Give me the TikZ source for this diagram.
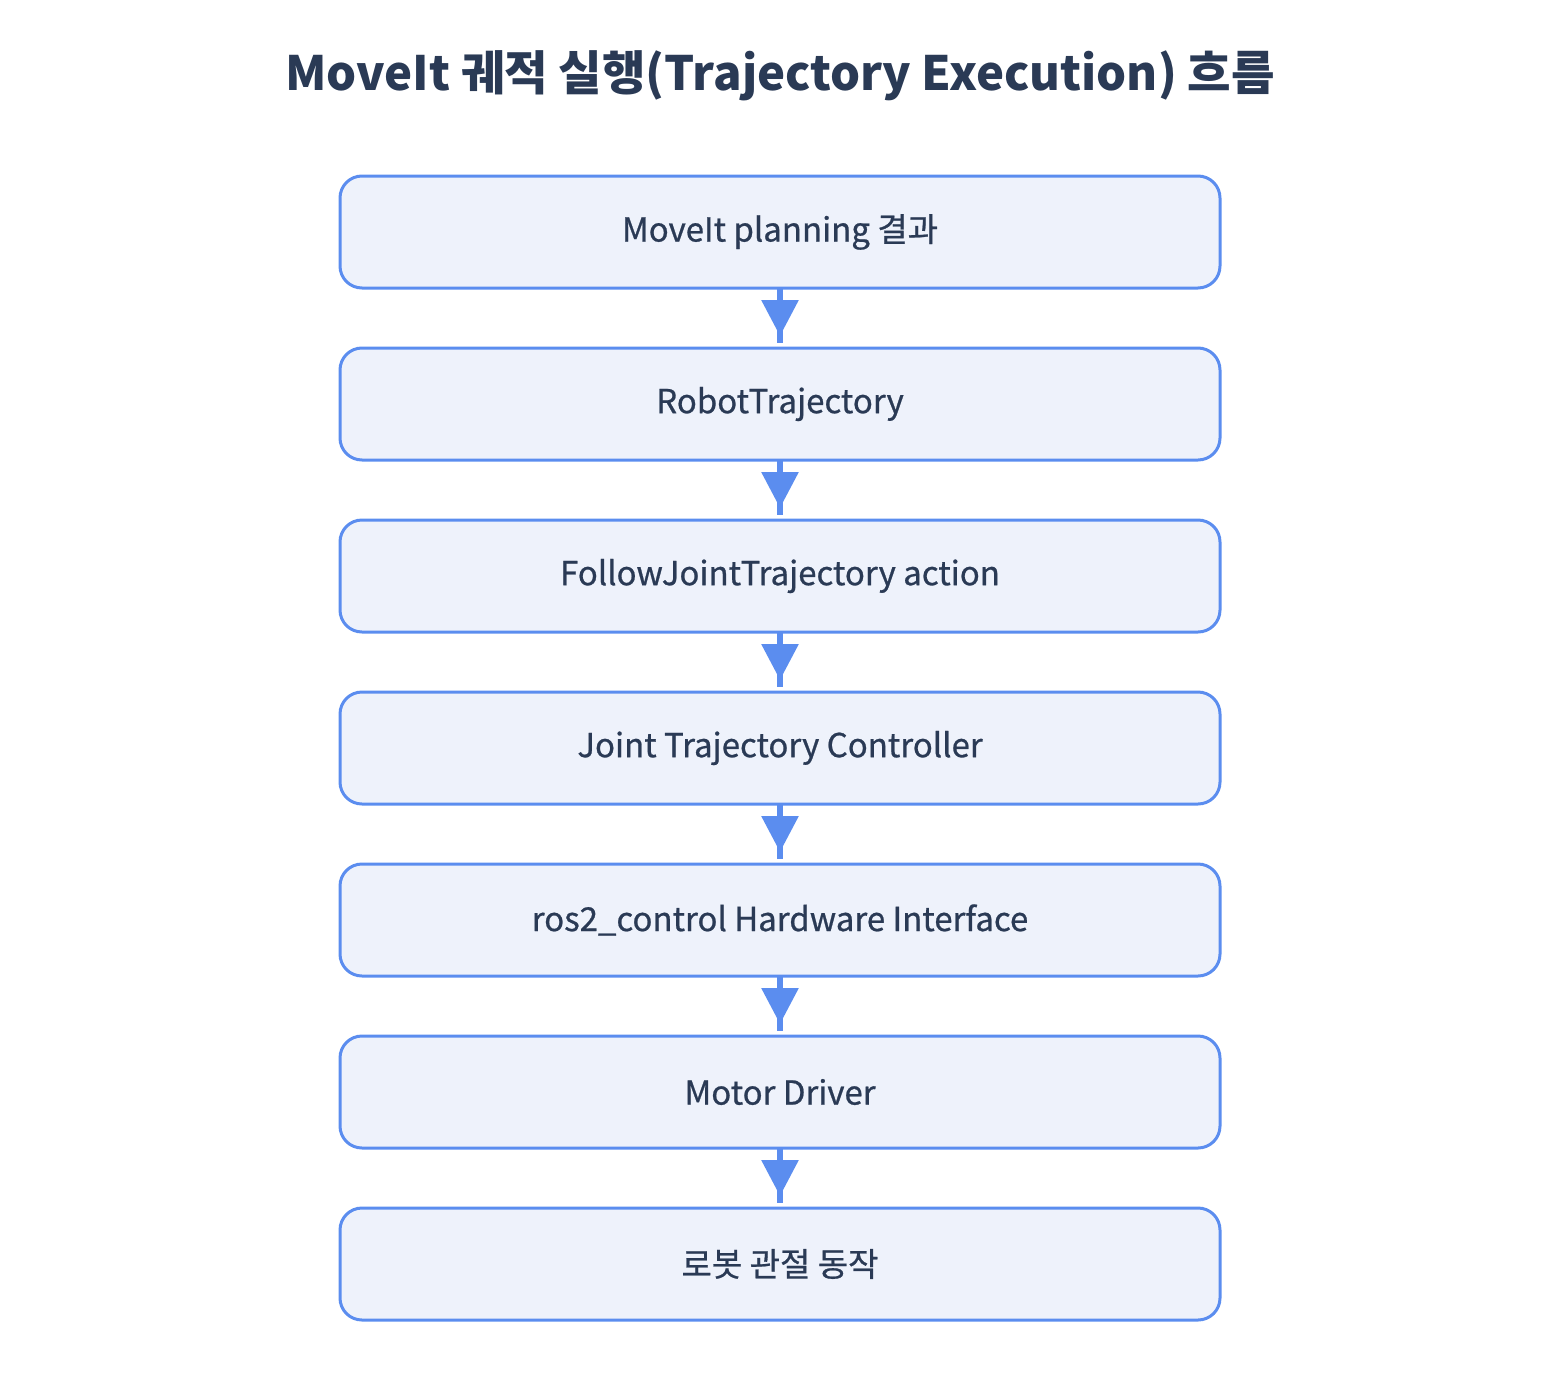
\documentclass[tikz,border=0pt]{standalone}
\usepackage{fontspec}
\setmainfont{Noto Sans CJK KR}
\newfontfamily\medfont[FakeBold=0.7]{Noto Sans CJK KR}
\usetikzlibrary{arrows.meta,decorations.markings}
\definecolor{boxfill}{HTML}{EEF2FB}
\definecolor{boxline}{HTML}{5B8DEF}
\definecolor{txt}{HTML}{2A3A55}
\tikzset{
  stepbox/.style={draw=boxline, fill=boxfill, line width=3pt, rounded corners=22pt,
    minimum width=880pt, minimum height=112pt, inner sep=0pt, outer sep=0pt, text=txt,
    font=\medfont\fontsize{33pt}{40pt}\selectfont, anchor=north},
  conn/.style={draw=boxline, line width=6pt, shorten >=5pt,
    postaction={decorate},
    decoration={markings, mark=at position 48pt with {\arrow[boxline]{Triangle[width=36pt,length=36pt]}}}}
}
\begin{document}
\begin{tikzpicture}[x=1pt,y=-1pt]
\useasboundingbox (0,0) rectangle (1560,1392);
\node[text=txt, font=\bfseries\fontsize{47.3pt}{56pt}\selectfont] (title) at (780,76) {MoveIt 궤적 실행(Trajectory Execution) 흐름};
\node[stepbox] (b1) at (780,176) {MoveIt planning 결과};
\node[stepbox] (b2) at (780,348) {RobotTrajectory};
\node[stepbox] (b3) at (780,520) {FollowJointTrajectory action};
\node[stepbox] (b4) at (780,692) {Joint Trajectory Controller};
\node[stepbox] (b5) at (780,864) {ros2\_control Hardware Interface};
\node[stepbox] (b6) at (780,1036) {Motor Driver};
\node[stepbox] (b7) at (780,1208) {로봇 관절 동작};
\foreach \a/\b in {b1/b2,b2/b3,b3/b4,b4/b5,b5/b6,b6/b7}
  \draw[conn] (\a.south) -- (\b.north);
\end{tikzpicture}
\end{document}
